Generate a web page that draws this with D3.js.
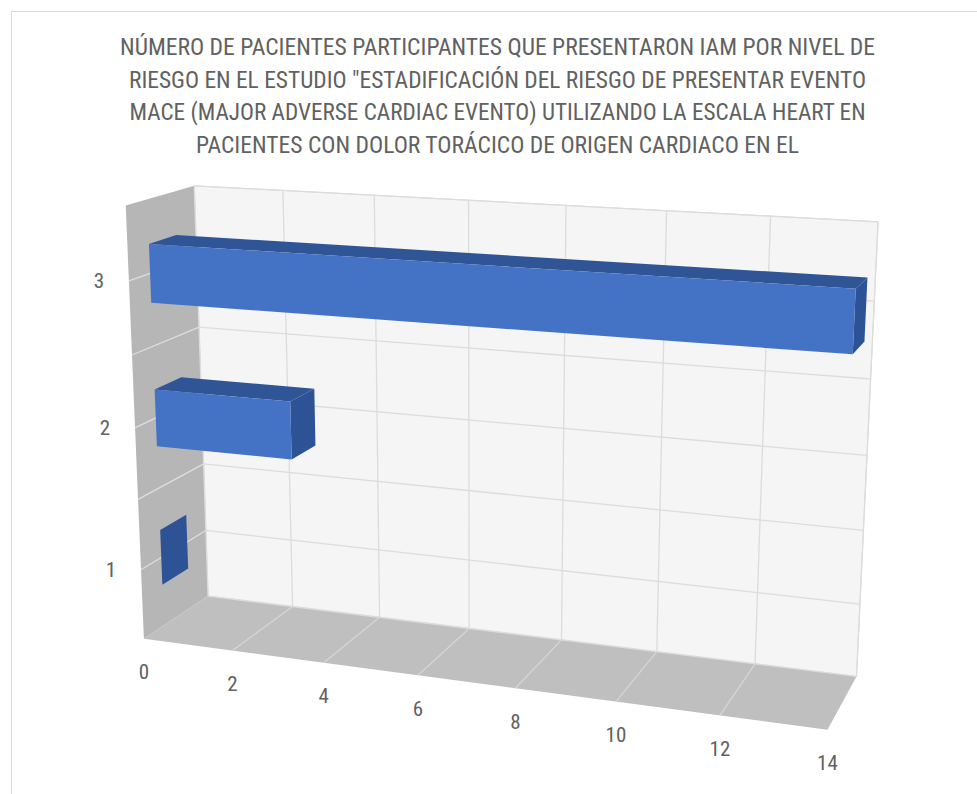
<!DOCTYPE html>
<html>
<head>
<meta charset="utf-8">
<script src="https://cdn.jsdelivr.net/npm/d3@7"></script>
<style>
  html, body { margin: 0; padding: 0; background: #fff; }
  svg { display: block; }
  text { font-family: 'Liberation Sans Narrow', 'Roboto Condensed', Roboto, sans-serif; fill: #616161; }
</style>
</head>
<body>
<div id="chart"></div>
<script>
// data
const categories = ['1', '2', '3']
const values = [0, 3, 14]
const valueTicks = [0, 2, 4, 6, 8, 10, 12, 14]
const titleLines = [
  'NÚMERO DE PACIENTES PARTICIPANTES QUE PRESENTARON IAM POR NIVEL DE',
  'RIESGO EN EL ESTUDIO "ESTADIFICACIÓN DEL RIESGO DE PRESENTAR EVENTO',
  'MACE (MAJOR ADVERSE CARDIAC EVENTO) UTILIZANDO LA ESCALA HEART EN',
  'PACIENTES CON DOLOR TORÁCICO DE ORIGEN CARDIACO EN EL'
]

const W = 977, H = 794

// screen anchors of the plot box corners (x: value 0..1, y: bottom..top, z: back..front)
const frame = [
  [0, 1, 0, 195, 186],
  [1, 1, 0, 878, 222],
  [1, 0, 0, 857, 675],
  [0, 0, 0, 207, 597],
  [0, 0, 1, 145, 638],
  [1, 0, 1, 827, 731],
  [0, 1, 1, 125, 205]
]

// least squares fit of a 3x4 projection matrix
function fitCamera(pts) {
  const A = [], b = []
  pts.forEach(([X, Y, Z, u, v]) => {
    A.push([X, Y, Z, 1, 0, 0, 0, 0, -u * X, -u * Y, -u * Z]); b.push(u)
    A.push([0, 0, 0, 0, X, Y, Z, 1, -v * X, -v * Y, -v * Z]); b.push(v)
  })
  const n = 11
  const M = d3.range(n).map(i => d3.range(n + 1).map(j =>
    j < n ? d3.sum(A, r => r[i] * r[j]) : d3.sum(A, (r, k) => r[i] * b[k])))
  for (let c = 0; c < n; c++) {
    let piv = c
    for (let r = c + 1; r < n; r++) if (Math.abs(M[r][c]) > Math.abs(M[piv][c])) piv = r
    ;[M[c], M[piv]] = [M[piv], M[c]]
    for (let r = 0; r < n; r++) {
      if (r === c) continue
      const f = M[r][c] / M[c][c]
      for (let k = c; k <= n; k++) M[r][k] -= f * M[c][k]
    }
  }
  return M.map((row, i) => row[n] / row[i])
}
const p = fitCamera(frame)
const proj = (X, Y, Z) => {
  const w = p[8] * X + p[9] * Y + p[10] * Z + 1
  return [(p[0] * X + p[1] * Y + p[2] * Z + p[3]) / w, (p[4] * X + p[5] * Y + p[6] * Z + p[7]) / w]
}
const poly = pts => pts.map(q => proj(...q).join(',')).join(' ')

// scales
const xScale = d3.scaleLinear().domain([0, 14]).range([0, 1])
const yScale = d3.scaleBand().domain(categories).range([0, 1]).paddingInner(0.6).paddingOuter(0.3)
const step = yScale.step()
const catCenter = c => yScale(c) + yScale.bandwidth() / 2
const zBack = 0.3, zFront = 0.7

const svg = d3.select('#chart').append('svg').attr('width', W).attr('height', H)

svg.append('rect').attr('x', 11.5).attr('y', 11.5).attr('width', W).attr('height', H)
  .attr('fill', '#fff').attr('stroke', '#d9d9d9')

// title
svg.append('g').selectAll('text').data(titleLines).join('text')
  .attr('x', 497.5)
  .attr('y', (d, i) => 55 + i * 32.5)
  .attr('text-anchor', 'middle')
  .attr('font-size', 23)
  .attr('textLength', (d, i) => [755, 737, 736, 603][i])
  .attr('lengthAdjust', 'spacingAndGlyphs')
  .text(d => d)

const walls = svg.append('g')
walls.append('polygon').attr('points', poly([[0, 0, 0], [1, 0, 0], [1, 1, 0], [0, 1, 0]]))
  .attr('fill', '#f5f5f5').attr('stroke', '#d9d9d9')
walls.append('polygon').attr('points', poly([[0, 0, 0], [0, 1, 0], [0, 1, 1], [0, 0, 1]]))
  .attr('fill', '#b6b6b6')
walls.append('polygon').attr('points', poly([[0, 0, 0], [1, 0, 0], [1, 0, 1], [0, 0, 1]]))
  .attr('fill', '#bfbfbf')

// gridlines: category boundaries and centres
const hLines = []
categories.forEach(c => { hLines.push(catCenter(c) - step / 2, catCenter(c)) })
hLines.push(catCenter(categories[2]) + step / 2)

const grid = svg.append('g').attr('fill', 'none').attr('stroke-width', 1.3)
grid.selectAll('.hb').data(hLines).join('polyline')
  .attr('points', y => poly([[0, y, 0], [1, y, 0]])).attr('stroke', '#dcdcdc')
grid.selectAll('.hs').data(hLines.slice(1, -1)).join('polyline')
  .attr('class', 'hs')
  .attr('points', y => poly([[0, y, 0], [0, y, 1]])).attr('stroke', '#dedede')
grid.selectAll('.vb').data(valueTicks).join('polyline')
  .attr('class', 'vb')
  .attr('points', v => poly([[xScale(v), 0, 0], [xScale(v), 1, 0]])).attr('stroke', '#dcdcdc')
grid.selectAll('.vf').data(valueTicks.slice(1, -1)).join('polyline')
  .attr('class', 'vf')
  .attr('points', v => poly([[xScale(v), 0, 0], [xScale(v), 0, 1]])).attr('stroke', '#d6d6d6')

// bars
const bars = svg.append('g').selectAll('g').data(categories.map((c, i) => ({ c, v: values[i] }))).join('g')
bars.each(function ({ c, v }) {
  const g = d3.select(this)
  const y0 = yScale(c), y1 = y0 + yScale.bandwidth(), x1 = xScale(v)
  if (v > 0) {
    g.append('polygon').attr('points', poly([[0, y1, zBack], [x1, y1, zBack], [x1, y1, zFront], [0, y1, zFront]]))
      .attr('fill', '#2f5597')
  }
  g.append('polygon').attr('points', poly([[x1, y0, zBack], [x1, y1, zBack], [x1, y1, zFront], [x1, y0, zFront]]))
    .attr('fill', '#2d5296')
  if (v > 0) {
    g.append('polygon').attr('points', poly([[0, y0, zFront], [x1, y0, zFront], [x1, y1, zFront], [0, y1, zFront]]))
      .attr('fill', '#4472c4')
  }
})

// axis labels
svg.append('g').selectAll('text').data(valueTicks).join('text')
  .attr('x', v => proj(xScale(v), 0, 1)[0])
  .attr('y', v => proj(xScale(v), 0, 1)[1] + 35)
  .attr('text-anchor', 'middle').attr('dominant-baseline', 'middle')
  .attr('font-size', 21)
  .text(d => d)

svg.append('g').selectAll('text').data(categories).join('text')
  .attr('x', c => proj(0, catCenter(c), 1)[0] - 30)
  .attr('y', c => proj(0, catCenter(c), 1)[1] + 2)
  .attr('text-anchor', 'middle').attr('dominant-baseline', 'middle')
  .attr('font-size', 21)
  .text(d => d)
</script>
</body>
</html>
